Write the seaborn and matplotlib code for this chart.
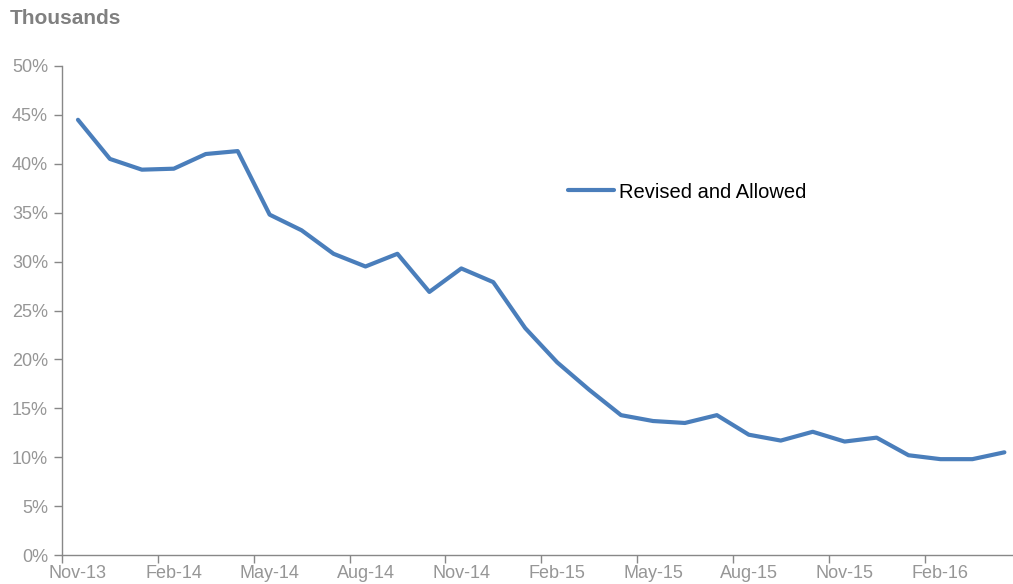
import matplotlib
matplotlib.use("Agg")
import matplotlib.pyplot as plt
import seaborn as sns
import pandas as pd
import numpy as np

months = ["Nov-13", "Dec-13", "Jan-14", "Feb-14", "Mar-14", "Apr-14", "May-14", "Jun-14",
          "Jul-14", "Aug-14", "Sep-14", "Oct-14", "Nov-14", "Dec-14", "Jan-15", "Feb-15",
          "Mar-15", "Apr-15", "May-15", "Jun-15", "Jul-15", "Aug-15", "Sep-15", "Oct-15",
          "Nov-15", "Dec-15", "Jan-16", "Feb-16", "Mar-16", "Apr-16"]
revised_allowed = [44.5, 40.5, 39.4, 39.5, 41.0, 41.3, 34.8, 33.2, 30.8, 29.5,
                   30.8, 26.9, 29.3, 27.9, 23.2, 19.7, 16.9, 14.3, 13.7, 13.5,
                   14.3, 12.3, 11.7, 12.6, 11.6, 12.0, 10.2, 9.8, 9.8, 10.5]
series_name = "Revised and Allowed"
y_ticks = [0, 5, 10, 15, 20, 25, 30, 35, 40, 45, 50]
y_labels = [f"{v}%" for v in y_ticks]

sns.set_style("white")
plt.rcParams['font.family'] = ['Liberation Sans', 'DejaVu Sans']

df = pd.DataFrame({"idx": np.arange(len(months)), "value": revised_allowed, "series": series_name})

fig = plt.figure(figsize=(10.13, 5.84), dpi=100)
ax = fig.add_axes([62/1013, 29/584, (1013-62)/1013, (555-66)/584])

sns.lineplot(data=df, x="idx", y="value", hue="series", palette=["#4A7EBB"],
             linewidth=3, ax=ax, legend=False)

ax.set_ylim(0, 50)
ax.set_xlim(-0.5, 29.27)
gray = "#888888"
txt_gray = "#969696"
for s in ["top", "right"]:
    ax.spines[s].set_visible(False)
for s in ["left", "bottom"]:
    ax.spines[s].set_color(gray)
    ax.spines[s].set_linewidth(1)

ax.set_yticks(y_ticks)
ax.set_yticklabels(y_labels)
ax.tick_params(axis="y", length=6, width=1, color=gray, labelcolor=txt_gray,
               labelsize=13, pad=4, direction="out", left=True)

label_pos = list(range(0, len(months), 3))
ax.set_xticks(label_pos)
ax.set_xticklabels([months[i] for i in label_pos])
ax.tick_params(axis="x", which="major", length=0, labelcolor=txt_gray, labelsize=13, pad=7)
ax.set_xticks([p - 0.5 for p in label_pos], minor=True)
ax.tick_params(axis="x", which="minor", length=6, width=1, color=gray, direction="out", bottom=True)
ax.set_xlabel("")
ax.set_ylabel("")

# legend
ax.plot([], [], color="#4A7EBB", linewidth=3, label=series_name)
leg = ax.legend(loc="center left", bbox_to_anchor=((568-62)/951, (555-192)/489),
                frameon=False, fontsize=14.5, handlelength=2.3, handletextpad=0.25,
                borderaxespad=0, borderpad=0, labelcolor="black")

fig.text(10/1013, 1 - 19/584, "Thousands", fontsize=15, fontweight="bold",
         color="#808080", va="center", ha="left")

fig.savefig("out.png", dpi=100)
